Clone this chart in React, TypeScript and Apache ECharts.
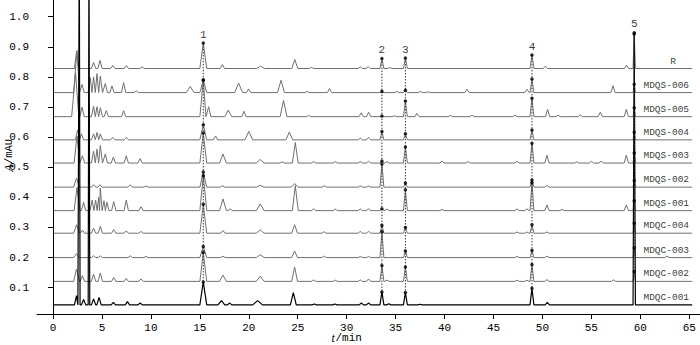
import React, { useEffect, useRef } from 'react';
import * as echarts from 'echarts';

// ---- data ----
const sampleNames = ['R', 'MDQS-006', 'MDQS-005', 'MDQS-004', 'MDQS-003', 'MDQS-002', 'MDQS-001', 'MDQC-004', 'MDQC-003', 'MDQC-002', 'MDQC-001'];
const baselines = [0.828, 0.748, 0.668, 0.591, 0.514, 0.434, 0.356, 0.281, 0.200, 0.121, 0.043];

const markedLabels = ['1', '2', '3', '4', '5'];
const markedTimes = [15.35, 33.6, 36.0, 48.93, 59.38];
// heights (above each trace baseline) of the marked peaks 1..5
const markedHeights = [
  [0.085, 0.033, 0.035, 0.045, 0.119],
  [0.042, 0.004, 0.008, 0.045, 0.028],
  [0.122, 0.002, 0.052, 0.061, 0.030],
  [0.050, 0.028, 0.020, 0.033, 0.025],
  [0.100, 0.007, 0.053, 0.066, 0.033],
  [0.050, 0.077, 0.014, 0.024, 0.022],
  [0.116, 0.006, 0.069, 0.093, 0.033],
  [0.096, 0.026, 0.019, 0.028, 0.033],
  [0.037, 0.086, 0.022, 0.024, 0.033],
  [0.096, 0.053, 0.048, 0.056, 0.033],
  [0.076, 0.043, 0.041, 0.055, 0.900],
];

// other peaks: [time (min), height, optional half width]
const peaksR = [[2.4, 0.056], [4.14, 0.02], [4.8, 0.027], [6.1, 0.01], [7.5, 0.01], [9.1, 0.006], [17.3, 0.013], [21.2, 0.008, 0.4], [24.7, 0.03, 0.3], [26.4, 0.004], [31.4, 0.006], [32.2, 0.006], [34.4, 0.003], [50.3, 0.008], [58.6, 0.011]];
const peaksS006 = [[2.45, 0.14, 0.35], [2.96, 0.027], [3.8, 0.05], [4.14, 0.052], [4.49, 0.063], [4.83, 0.055], [5.34, 0.03], [6.02, 0.022], [7.21, 0.033], [8.5, 0.006], [14.02, 0.02, 0.4], [18.96, 0.032, 0.4], [19.98, 0.012], [23.29, 0.041, 0.35], [25.95, 0.004], [28.25, 0.013], [35.14, 0.004], [37.52, 0.004], [38.3, 0.003], [42.29, 0.011], [48.42, 0.011], [57.21, 0.023]];
const peaksS005 = [[2.3, 0.146, 0.4], [2.96, 0.032], [4.14, 0.035], [4.49, 0.033], [4.83, 0.03], [5.44, 0.02], [7.21, 0.02], [15.9, 0.033], [17.9, 0.022, 0.35], [19.5, 0.018], [23.55, 0.054, 0.35], [26.11, 0.004], [31.49, 0.013], [32.24, 0.015], [34.86, 0.003], [37.18, 0.011], [40.59, 0.004], [42.8, 0.005], [47.2, 0.005], [50.53, 0.024], [51.6, 0.005], [53.87, 0.006], [55.91, 0.015], [58.57, 0.024]];
const peaksS004 = [[2.5, 0.033], [2.9, 0.02], [4.14, 0.02], [4.5, 0.025], [4.83, 0.02], [6.1, 0.008], [7.5, 0.008], [16.6, 0.013], [20.0, 0.028, 0.4], [24.14, 0.026, 0.35], [31.39, 0.006], [32.24, 0.008]];
const peaksS003 = [[2.45, 0.09, 0.3], [3.0, 0.024], [4.14, 0.04], [4.49, 0.046], [4.83, 0.058], [5.34, 0.03], [6.16, 0.02], [7.48, 0.024], [8.9, 0.015], [17.36, 0.03, 0.35], [21.17, 0.012, 0.4], [23.4, 0.004], [24.75, 0.068, 0.3], [26.62, 0.005], [28.84, 0.005], [31.39, 0.005], [32.24, 0.006], [34.12, 0.005], [39.74, 0.006], [42.42, 0.005], [47.4, 0.006], [50.46, 0.026], [53.5, 0.004], [55.0, 0.006], [56.0, 0.006], [58.57, 0.026]];
const peaksS002 = [[2.4, 0.03, 0.3], [4.14, 0.008], [4.8, 0.008], [7.89, 0.008], [9.5, 0.004], [17.3, 0.005], [21.17, 0.006, 0.4], [24.68, 0.012, 0.35], [27.71, 0.005], [31.39, 0.004], [32.24, 0.004], [50.46, 0.006]];
const peaksS001 = [[2.45, 0.077, 0.3], [3.12, 0.028], [4.0, 0.035], [4.35, 0.035], [4.66, 0.044], [4.83, 0.075], [5.2, 0.033], [5.5, 0.028], [6.2, 0.03], [7.48, 0.035], [8.99, 0.013], [17.36, 0.039, 0.35], [18.1, 0.006], [21.17, 0.022, 0.4], [24.75, 0.083, 0.3], [26.62, 0.006], [28.84, 0.005], [31.39, 0.006], [32.24, 0.006], [34.12, 0.005], [39.74, 0.004], [47.4, 0.006], [48.42, 0.006], [50.46, 0.019], [52.0, 0.004], [58.57, 0.019]];
const peaksC004 = [[2.4, 0.028, 0.3], [3.0, 0.01], [4.14, 0.017], [4.83, 0.023], [6.2, 0.012], [7.48, 0.008], [8.99, 0.006], [17.36, 0.009], [21.17, 0.011, 0.4], [24.68, 0.028, 0.3], [27.71, 0.005], [31.39, 0.006], [32.24, 0.006], [47.4, 0.004], [48.42, 0.004], [50.46, 0.004]];
const peaksC003 = [[2.4, 0.013, 0.3], [4.14, 0.006], [4.83, 0.006], [7.89, 0.006], [9.5, 0.004], [17.36, 0.005], [21.17, 0.01, 0.4], [24.68, 0.022, 0.3], [27.71, 0.005], [31.39, 0.004], [32.24, 0.004], [47.4, 0.004], [50.46, 0.005], [62.72, 0.005]];
const peaksC002 = [[2.4, 0.041, 0.3], [3.0, 0.019], [4.14, 0.024], [4.83, 0.028], [6.2, 0.013], [7.48, 0.01], [8.99, 0.008], [17.36, 0.021, 0.35], [21.17, 0.017, 0.4], [24.68, 0.048, 0.3], [26.62, 0.005], [28.84, 0.004], [31.39, 0.005], [32.24, 0.008], [34.12, 0.004], [47.4, 0.004], [48.42, 0.004], [50.46, 0.006], [57.27, 0.005]];
const peaksC001 = [[2.4, 0.031], [2.68, 1.2, 0.08], [3.12, 0.018], [3.67, 1.2, 0.08], [4.14, 0.02], [4.7, 0.025], [6.16, 0.008], [7.6, 0.011], [8.9, 0.006], [17.2, 0.014, 0.35], [18.04, 0.006], [20.9, 0.014, 0.5], [24.55, 0.041, 0.3], [26.7, 0.003], [28.8, 0.003], [31.5, 0.006], [32.24, 0.006], [34.3, 0.004], [37.5, 0.002], [50.5, 0.008]];
const otherPeaks = [peaksR, peaksS006, peaksS005, peaksS004, peaksS003, peaksS002, peaksS001, peaksC004, peaksC003, peaksC002, peaksC001];

const xTickValues = [0, 5, 10, 15, 20, 25, 30, 35, 40, 45, 50, 55, 60, 65];
const yTickValues = [0.1, 0.2, 0.3, 0.4, 0.5, 0.6, 0.7, 0.8, 0.9, 1.0];

// ---- layout / style constants ----
const START_T = 0.1;
const END_T = 65.3;
const DEFAULT_W = 0.22;
const markedWidths = [0.35, 0.2, 0.2, 0.2, 0.12];
const NAME_T = 62.65;
const R_NAME_T = 63.36;
const GRAY = '#707070';
const MONO = '"Liberation Mono", monospace';
const SERIF = '"Liberation Serif", serif';

function buildTrace(i: number) {
  const b = baselines[i];
  const peaks = [
    ...otherPeaks[i].map((p) => ({ t: p[0], h: p[1], w: p[2] ?? DEFAULT_W })),
    ...markedTimes.map((t, k) => ({ t, h: markedHeights[i][k], w: markedWidths[k] })),
  ].sort((a, c) => a.t - c.t);
  const pts: number[][] = [[START_T, b]];
  peaks.forEach((p, j) => {
    const prev = peaks[j - 1];
    const next = peaks[j + 1];
    let l = p.t - p.w;
    let r = p.t + p.w;
    if (prev) l = Math.max(l, (prev.t + p.t) / 2);
    if (next) r = Math.min(r, (p.t + next.t) / 2);
    pts.push([l, b], [p.t, b + p.h], [r, b]);
  });
  pts.push([END_T, b]);
  return pts;
}

export default function App() {
  const ref = useRef<HTMLDivElement>(null);
  useEffect(() => {
    if (!ref.current) return;
    const chart = echarts.init(ref.current, null, { renderer: 'svg' });

    const last = sampleNames.length - 1;
    const traceSeries = sampleNames.map((name, i) => ({
      type: 'line',
      name,
      data: buildTrace(i),
      showSymbol: false,
      symbol: 'none',
      silent: true,
      clip: true,
      z: i === last ? 4 : 2,
      lineStyle: { color: i === last ? '#000' : GRAY, width: i === last ? 1.2 : 1 },
    }));

    const dottedSeries = markedTimes.map((t, k) => {
      const vals = baselines.map((b, i) => b + markedHeights[i][k]);
      return {
        type: 'line',
        data: [[t, Math.max(...vals)], [t, Math.min(...vals)]],
        showSymbol: false,
        symbol: 'none',
        silent: true,
        z: 5,
        lineStyle: { color: '#333', width: 1, type: [1.5, 1.5] },
      };
    });

    const peakLabel = { position: 'top', distance: 1, color: '#000', fontFamily: MONO, fontSize: 11 };
    const markerData: any[] = [];
    baselines.forEach((b, i) => {
      markedTimes.forEach((t, k) => {
        markerData.push({
          value: [t, b + markedHeights[i][k]],
          label: i === 0 ? { ...peakLabel, show: true, formatter: markedLabels[k] } : { show: false },
        });
      });
    });

    const nameData = sampleNames.map((n, i) => ({ value: [i === 0 ? R_NAME_T : NAME_T, baselines[i]], name: n }));

    chart.setOption({
      animation: false,
      backgroundColor: '#fff',
      grid: { left: 37, right: 0, top: 0, bottom: 31, containLabel: false, outerBoundsMode: 'none' },
      xAxis: {
        type: 'value',
        min: -1.64,
        max: 66.1,
        splitLine: { show: false },
        axisLine: { lineStyle: { color: '#000', width: 1 } },
        axisTick: { show: true, length: 5, inside: false, customValues: xTickValues, lineStyle: { color: '#000' } },
        axisLabel: { customValues: xTickValues, margin: 8, color: '#000', fontFamily: MONO, fontSize: 11, formatter: (v: number) => String(v) },
      },
      yAxis: {
        type: 'value',
        min: 0.0127,
        max: 1.0555,
        splitLine: { show: false },
        axisLine: { show: true, lineStyle: { color: '#000', width: 1 } },
        axisTick: { show: true, length: 5, inside: false, customValues: yTickValues, lineStyle: { color: '#000' } },
        axisLabel: { customValues: yTickValues, margin: 8, color: '#000', fontFamily: MONO, fontSize: 11, formatter: (v: number) => v.toFixed(1) },
      },
      graphic: [
        { type: 'text', x: 331.5, y: 338, style: { text: 't', textAlign: 'left', textVerticalAlign: 'middle', fontStyle: 'italic', fontFamily: SERIF, fontSize: 12, fill: '#000' } },
        { type: 'text', x: 335.5, y: 338, style: { text: '/min', textAlign: 'left', textVerticalAlign: 'middle', fontFamily: MONO, fontSize: 11, fill: '#000' } },
        {
          type: 'group',
          x: 9,
          y: 157,
          rotation: Math.PI / 2,
          children: [
            { type: 'text', x: -11, y: 0, style: { text: 'A', textAlign: 'center', textVerticalAlign: 'middle', fontStyle: 'italic', fontFamily: SERIF, fontSize: 12, fill: '#000' } },
            { type: 'text', x: 5.5, y: 0, style: { text: '/mAU', textAlign: 'center', textVerticalAlign: 'middle', fontFamily: MONO, fontSize: 10.5, fill: '#000' } },
          ],
        },
      ],
      series: [
        ...traceSeries,
        ...dottedSeries,
        {
          type: 'scatter',
          data: markerData,
          symbol: 'circle',
          symbolSize: 3.5,
          silent: true,
          z: 6,
          itemStyle: { color: '#000' },
          label: peakLabel,
        },
        {
          type: 'scatter',
          data: nameData,
          symbolSize: 1,
          silent: true,
          z: 6,
          itemStyle: { color: 'rgba(0,0,0,0)' },
          label: { show: true, position: 'top', distance: 2, formatter: (p: any) => p.name, color: '#000', fontFamily: MONO, fontSize: 9.5 },
        },
      ],
    });
    return () => chart.dispose();
  }, []);
  return <div ref={ref} style={{ position: 'fixed', left: 0, top: 0, width: 700, height: 345, background: '#fff' }} />;
}
